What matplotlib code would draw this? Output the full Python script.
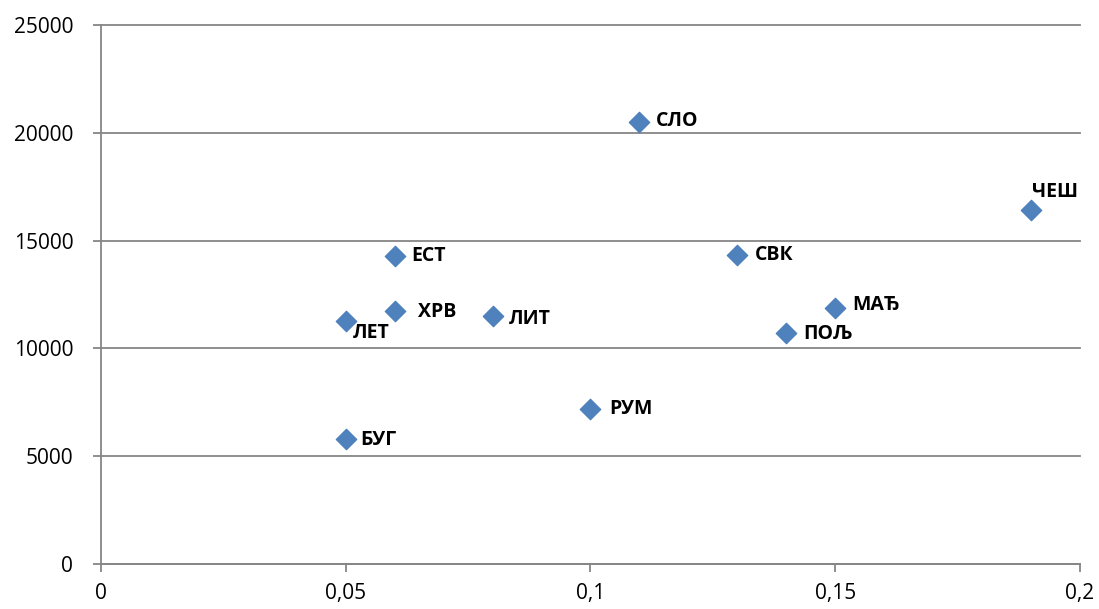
import matplotlib.pyplot as plt
from matplotlib.ticker import FuncFormatter, MultipleLocator

plt.rcParams['font.family'] = ['Open Sans', 'DejaVu Sans']

countries = ['БУГ', 'ЛЕТ', 'ЕСТ', 'ХРВ', 'ЛИТ', 'РУМ', 'СЛО', 'СВК', 'ПОЉ', 'МАЂ', 'ЧЕШ']
share = [0.05, 0.05, 0.06, 0.06, 0.08, 0.10, 0.11, 0.13, 0.14, 0.15, 0.19]
gdp = [5800, 11250, 14300, 11750, 11480, 7200, 20500, 14330, 10700, 11880, 16430]

# label offsets in pixels from the marker centre
offsets = {
    'БУГ': (15, -1), 'ЛЕТ': (7, -12), 'ЕСТ': (17, 0), 'ХРВ': (23, -1),
    'ЛИТ': (16, -3), 'РУМ': (19, 0), 'СЛО': (16, 1), 'СВК': (18, 0),
    'ПОЉ': (17, -1), 'МАЂ': (17, 3), 'ЧЕШ': (1, 18),
}

fig = plt.figure(figsize=(10.99, 6.09), dpi=100)
ax = fig.add_axes([0.0919, 0.0739, 0.8908, 0.8851])

ax.scatter(share, gdp, marker='D', s=110, color='#4F81BD', edgecolor='#4A7EBB',
           linewidth=0.8, zorder=3, clip_on=False)
for name, x, y in zip(countries, share, gdp):
    dx, dy = offsets[name]
    ax.annotate(name, (x, y), xytext=(dx, dy), textcoords='offset pixels',
                ha='left', va='center', fontsize=14, fontweight='bold', color='black')

ax.set_xlim(0, 0.2)
ax.set_ylim(0, 25000)
ax.xaxis.set_major_locator(MultipleLocator(0.05))
ax.yaxis.set_major_locator(MultipleLocator(5000))
ax.xaxis.set_major_formatter(FuncFormatter(lambda v, p: ('%g' % round(v, 3)).replace('.', ',')))
ax.yaxis.set_major_formatter(FuncFormatter(lambda v, p: '%d' % v))

ax.grid(axis='y', color='#868686', linewidth=1.3)
for line in ax.get_ygridlines():
    line.set_clip_on(False)
ax.set_axisbelow(True)
for s in ['top', 'right']:
    ax.spines[s].set_visible(False)
for s in ['left', 'bottom']:
    ax.spines[s].set_color('#868686')
    ax.spines[s].set_linewidth(1.3)
ax.tick_params(axis='both', length=6, width=1.3, color='#868686', labelsize=15, labelcolor='black')
ax.tick_params(axis='y', pad=14)
ax.tick_params(axis='x', pad=8)

fig.savefig('out.png', dpi=100)
